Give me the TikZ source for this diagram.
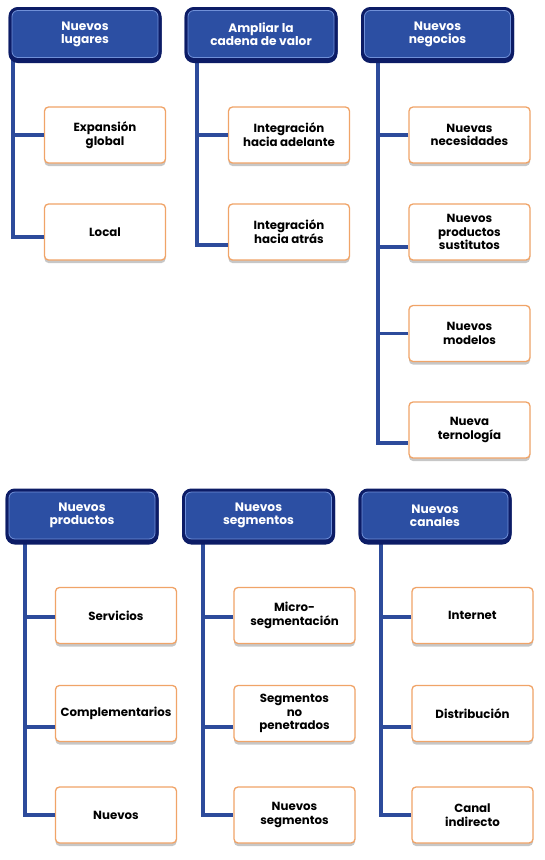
\documentclass[tikz,border=0pt]{standalone}
\usepackage{fontspec}
\setmainfont{Poppins}
\usetikzlibrary{shadows}
\definecolor{navy}{HTML}{0C1C66}
\definecolor{hdrblue}{HTML}{2C4FA3}
\definecolor{hdrlight}{HTML}{7090D8}
\definecolor{trunk}{HTML}{2D4B9B}
\definecolor{orng}{HTML}{F0A468}
\tikzset{
  hdr/.style={rounded corners=6pt, fill=hdrblue, draw=hdrlight, line width=0.8pt,
    minimum width=146pt, minimum height=47pt, inner sep=0pt,
    text=white, font=\fontsize{12.2}{13}\selectfont\bfseries, align=center,
    preaction={draw=navy, fill=navy, line width=7pt, transform canvas={yshift=-2pt}},
    preaction={draw=navy, line width=7pt}},
  child/.style={rounded corners=4pt, fill=white, draw=orng, line width=1.3pt,
    minimum width=121pt, minimum height=56pt, inner sep=0pt,
    text=black, font=\fontsize{11.8}{13.8}\selectfont\bfseries, align=center,
    drop shadow={shadow xshift=0pt, shadow yshift=-3pt, opacity=0.22, fill=black}},
  link/.style={draw=trunk, line width=3.2pt}
}
\begin{document}
\begin{tikzpicture}[x=1pt,y=-1pt]
\useasboundingbox[fill=white] (0,0) rectangle (545,860);
% trunk coordinates
\coordinate (ta) at (13,55);
\coordinate (tb) at (197,55);
\coordinate (tc) at (378,55);
\coordinate (td) at (25,535);
\coordinate (te) at (203,535);
\coordinate (tf) at (381,535);
% children top
\node[child] (a1) at (105,135) {Expansión\\global};
\node[child] (a2) at (105,232) {Local};
\node[child] (b1) at (289,135) {Integración\\hacia adelante};
\node[child] (b2) at (289,232) {Integración\\hacia atrás};
\node[child] (c1) at (469.5,135) {Nuevas\\necesidades};
\node[child] (c2) at (469.5,232) {Nuevos\\productos\\sustitutos};
\node[child] (c3) at (469.5,333.5) {Nuevos\\modelos};
\node[child] (c4) at (469.5,430) {Nueva\\ternología};
% children bottom
\node[child] (d1) at (116,615.5) {Servicios};
\node[child] (d2) at (116,713.5) {Complementarios};
\node[child] (d3) at (116,815) {Nuevos};
\node[child] (e1) at (294.5,615.5) {Micro-\\segmentación};
\node[child] (e2) at (294.5,713.5) {Segmentos\\no\\penetrados};
\node[child] (e3) at (294.5,815) {Nuevos\\segmentos};
\node[child] (f1) at (472.5,615.5) {Internet};
\node[child] (f2) at (472.5,713.5) {Distribución};
\node[child] (f3) at (472.5,815) {Canal\\indirecto};
% connectors
\draw[link] (a1.west) -- (a1.west -| ta);
\draw[link] (ta) |- ([yshift=-5pt]a2.west);
\draw[link] (b1.west) -- (b1.west -| tb);
\draw[link] (tb) |- ([yshift=-13pt]b2.west);
\draw[link] (c1.west) -- (c1.west -| tc);
\draw[link] ([yshift=-15pt]c2.west) -- ([yshift=-15pt]c2.west -| tc);
\draw[link] (c3.west) -- (c3.west -| tc);
\draw[link] (tc) |- ([yshift=-13pt]c4.west);
\draw[link] ([yshift=-1.5pt]d1.west) -- ([yshift=-1.5pt]d1.west -| td);
\draw[link] ([yshift=-13.5pt]d2.west) -- ([yshift=-13.5pt]d2.west -| td);
\draw[link] (td) |- (d3.west);
\draw[link] ([yshift=-1.5pt]e1.west) -- ([yshift=-1.5pt]e1.west -| te);
\draw[link] ([yshift=-13.5pt]e2.west) -- ([yshift=-13.5pt]e2.west -| te);
\draw[link] (te) |- (e3.west);
\draw[link] ([yshift=-1.5pt]f1.west) -- ([yshift=-1.5pt]f1.west -| tf);
\draw[link] ([yshift=-13.5pt]f2.west) -- ([yshift=-13.5pt]f2.west -| tf);
\draw[link] (tf) |- (f3.west);
% headers
\node[hdr] (A) at (85,34) {Nuevos\\lugares};
\node[hdr] (B) at (261,34) {Ampliar la\\cadena de valor};
\node[hdr] (C) at (437.5,34) {Nuevos\\negocios};
\node[hdr] (D) at (82,515.5) {Nuevos\\productos};
\node[hdr] (E) at (258.5,515.5) {Nuevos\\segmentos};
\node[hdr] (F) at (435,515.5) {Nuevos\\canales};
\end{tikzpicture}
\end{document}
